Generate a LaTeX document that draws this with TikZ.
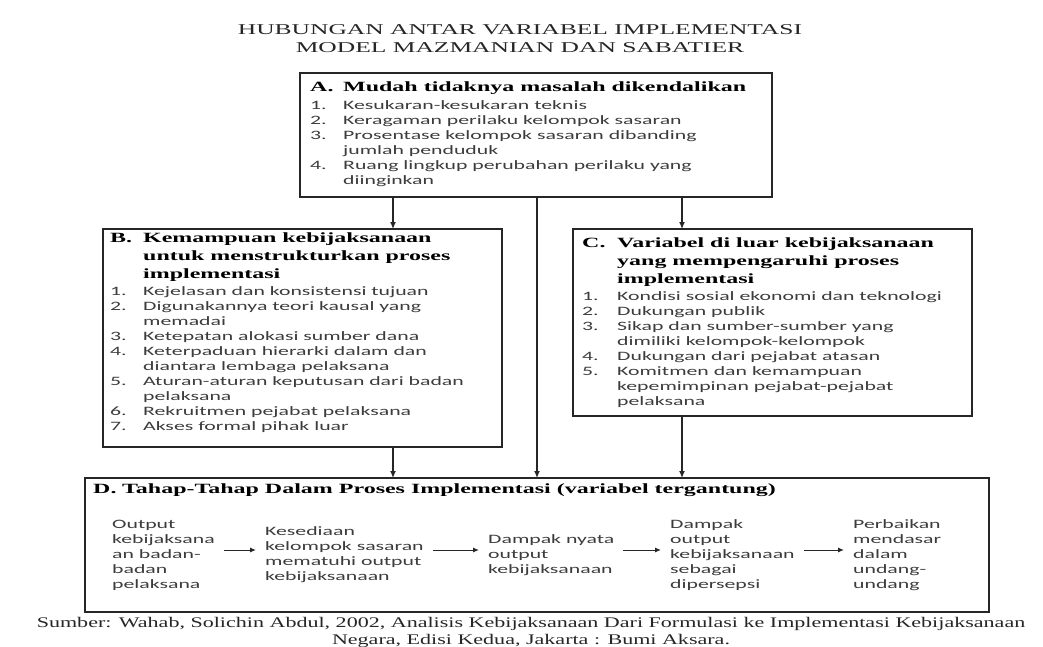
\documentclass[tikz,border=0pt]{standalone}
\usepackage{fontspec}
\setmainfont{Liberation Serif}
\newfontfamily\serifwide[FakeStretch=1.7]{Liberation Serif}
\newfontfamily\itemwide[FakeStretch=1.7]{Carlito}
\newfontfamily\srcwide[FakeStretch=1.5]{Liberation Serif}
\usetikzlibrary{arrows.meta}

\definecolor{inkgray}{HTML}{3C3C3C}
\definecolor{linegray}{HTML}{262626}
\newcommand{\hd}[1]{\leavevmode{\serifwide\bfseries\fontsize{14.1}{18}\selectfont\color{black}#1}}

\begin{document}
\begin{tikzpicture}[x=1pt,y=1pt,
  box/.style={draw=linegray, line width=1.2pt, fill=white, anchor=north west, inner sep=0pt, outer sep=0pt},
  list/.style={anchor=north west, inner sep=0pt, text=inkgray, font=\itemwide\fontsize{12.8}{15}\selectfont},
  stage/.style={anchor=west, align=left, inner xsep=9pt, inner ysep=2pt, text=inkgray, font=\itemwide\fontsize{12.8}{15}\selectfont},
  arr/.style={draw=linegray, line width=1.3pt, -{Latex[length=7pt,width=6pt]}},
  flow/.style={draw=linegray, line width=1pt, -{Latex[length=6pt,width=5pt]}}]
\useasboundingbox [fill=white] (0,0) rectangle (1043,-647);

% title
\node [align=center, text=black!85, font=\serifwide\fontsize{15}{18}\selectfont] (title) at (520,-39)
  {HUBUNGAN ANTAR VARIABEL IMPLEMENTASI\\MODEL MAZMANIAN DAN SABATIER};

% boxes
\node [box, minimum width=472pt, minimum height=124pt] (boxA) at (300,-73) {};
\node [box, minimum width=399pt, minimum height=218pt] (boxB) at (103,-229) {};
\node [box, minimum width=399pt, minimum height=187pt] (boxC) at (573,-229) {};
\node [box, minimum width=904pt, minimum height=134pt] (boxD) at (85,-478) {};

\node [list] (listA) at ([shift={(10,-8)}]boxA.north west) {%
\begin{tabular}{@{}p{33pt}@{}l@{}}
\hd{A.} & \hd{Mudah tidaknya masalah dikendalikan}\\[3pt]
1. & Kesukaran-kesukaran teknis\\
2. & Keragaman perilaku kelompok sasaran\\
3. & Prosentase kelompok sasaran dibanding\\
   & jumlah penduduk\\
4. & Ruang lingkup perubahan perilaku yang\\
   & diinginkan
\end{tabular}};

\node [list] (listB) at ([shift={(7,-3)}]boxB.north west) {%
\begin{tabular}{@{}p{33pt}@{}l@{}}
\hd{B.} & \hd{Kemampuan kebijaksanaan}\\[3pt]
        & \hd{untuk menstrukturkan proses}\\[3pt]
        & \hd{implementasi}\\[1.5pt]
1. & Kejelasan dan konsistensi tujuan\\
2. & Digunakannya teori kausal yang\\
   & memadai\\
3. & Ketepatan alokasi sumber dana\\
4. & Keterpaduan hierarki dalam dan\\
   & diantara lembaga pelaksana\\
5. & Aturan-aturan keputusan dari badan\\
   & pelaksana\\
6. & Rekruitmen pejabat pelaksana\\
7. & Akses formal pihak luar
\end{tabular}};

\node [list] (listC) at ([shift={(9,-8)}]boxC.north west) {%
\begin{tabular}{@{}p{35pt}@{}l@{}}
\hd{C.} & \hd{Variabel di luar kebijaksanaan}\\[3pt]
        & \hd{yang mempengaruhi proses}\\[3pt]
        & \hd{implementasi}\\[1.5pt]
1. & Kondisi sosial ekonomi dan teknologi\\
2. & Dukungan publik\\
3. & Sikap dan sumber-sumber yang\\
   & dimiliki kelompok-kelompok\\
4. & Dukungan dari pejabat atasan\\
5. & Komitmen dan kemampuan\\
   & kepemimpinan pejabat-pejabat\\
   & pelaksana
\end{tabular}};

\node [anchor=west, inner sep=0pt] (headD) at (93,-490)
  {\hd{\makebox[29pt][l]{D.}Tahap-Tahap Dalam Proses Implementasi (variabel tergantung)}};

% stages inside D
\node [stage] (out1) at (103,-555) {Output\\kebijaksana\\an badan-\\badan\\pelaksana};
\node [stage] (out2) at (256,-555) {Kesediaan\\kelompok sasaran\\mematuhi output\\kebijaksanaan};
\node [stage] (out3) at (479,-555) {Dampak nyata\\output\\kebijaksanaan};
\node [stage] (out4) at (661,-555) {Dampak\\output\\kebijaksanaan\\sebagai\\dipersepsi};
\node [stage] (out5) at (844,-555) {Perbaikan\\mendasar\\dalam\\undang-\\undang};

\coordinate (flowline) at (0,-550);
\draw [flow] (out1.east |- flowline) -- (out2.west |- flowline);
\draw [flow] (out2.east |- flowline) -- (out3.west |- flowline);
\draw [flow] (out3.east |- flowline) -- (out4.west |- flowline);
\draw [flow] (out4.east |- flowline) -- (out5.west |- flowline);

% connectors
\coordinate (colL) at (393,0);
\coordinate (colM) at (537,0);
\coordinate (colR) at (682,0);
\draw [arr] (boxA.south -| colL) -- (boxB.north -| colL);
\draw [arr] (boxA.south -| colR) -- (boxC.north -| colR);
\draw [arr] (boxA.south -| colM) -- (boxD.north -| colM);
\draw [arr] (boxB.south -| colL) -- (boxD.north -| colL);
\draw [arr] (boxC.south -| colR) -- (boxD.north -| colR);

% source
\node [align=center, text=black!85, font=\srcwide\fontsize{14.7}{17}\selectfont] (src) at (531,-632)
  {Sumber: Wahab, Solichin Abdul, 2002, Analisis Kebijaksanaan Dari Formulasi ke Implementasi Kebijaksanaan\\
   Negara, Edisi Kedua, Jakarta : Bumi Aksara.};
\end{tikzpicture}
\end{document}
